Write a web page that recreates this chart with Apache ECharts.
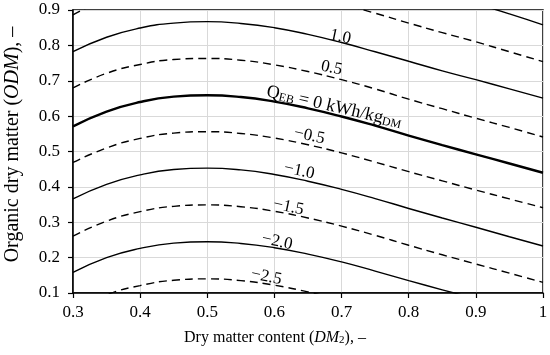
<!DOCTYPE html>
<html>
<head>
<meta charset="utf-8">
<script src="https://cdn.jsdelivr.net/npm/echarts@6/dist/echarts.min.js"></script>
<style>html,body{margin:0;padding:0;background:#fff}#c{width:550px;height:355px}</style>
</head>
<body>
<div id="c"></div>
<script>
// Dry matter content DM2 (x)
const dm = [0.30,0.35,0.40,0.45,0.50,0.55,0.60,0.65,0.70,0.75,0.80,0.85,0.90,0.95,1.00];
// Organic dry matter ODM (y) for each QEB contour, kWh/kgDM
const odmP20 = [null,null,null,null,null,null,null,null,null,null,null,0.945,0.918,0.889,0.858];
const odmP15 = [0.886,0.931,0.958,0.973,0.977,0.972,0.959,0.940,0.917,0.891,0.863,0.836,0.810,0.782,0.754];
const odmP10 = [0.782,0.823,0.849,0.863,0.867,0.862,0.850,0.831,0.808,0.782,0.755,0.728,0.703,0.677,0.651];
const odmP05 = [0.680,0.721,0.746,0.760,0.763,0.758,0.745,0.726,0.703,0.677,0.648,0.621,0.594,0.568,0.541];
const odm00  = [0.571,0.613,0.640,0.655,0.659,0.654,0.641,0.622,0.599,0.573,0.545,0.518,0.492,0.466,0.440];
const odmM05 = [0.469,0.510,0.537,0.552,0.556,0.551,0.538,0.519,0.496,0.470,0.443,0.417,0.391,0.366,0.341];
const odmM10 = [0.366,0.407,0.434,0.449,0.453,0.448,0.435,0.416,0.393,0.367,0.339,0.312,0.286,0.259,0.233];
const odmM15 = [0.261,0.303,0.330,0.345,0.349,0.344,0.331,0.312,0.289,0.263,0.235,0.208,0.182,0.156,0.130];
const odmM20 = [0.158,0.200,0.226,0.241,0.245,0.240,0.228,0.210,0.188,0.162,0.135,0.109,0.084,null,null];
const odmM25 = [0.052,0.095,0.121,0.136,0.140,0.135,0.122,0.103,0.080,null,null,null,null,null,null];

// contour labels
const labelText = ['1.0','0.5','Q{s|EB} = 0 kWh/kg{s|DM}','\u22120.5','\u22121.0','\u22121.5','\u22122.0','\u22122.5'];
const labelX = [0.698,0.685,0.689,0.652,0.637,0.621,0.604,0.588];
const labelY = [0.824,0.736,0.626,0.544,0.445,0.343,0.245,0.146];

const FONT = '"Liberation Serif","Times New Roman",serif';
const pairs = arr => dm.map((x,i)=>[x,arr[i]]).filter(p=>p[1]!=null);

function mk(arr, dashed, width){
  return {type:'line', data:pairs(arr), showSymbol:false, smooth:true, clip:true, silent:true,
    lineStyle:{color:'#000', width:width, type: dashed ? [8,5] : 'solid'}};
}

const chart = echarts.init(document.getElementById('c'), null, {renderer:'canvas'});
const option = {
  animation:false,
  backgroundColor:'#fff',
  grid:{left:73, right:7, top:10, bottom:62, containLabel:false, outerBoundsMode:'none',
    show:true, borderColor:'#000', borderWidth:1.5},
  xAxis:{type:'value', min:0.3, max:1, interval:0.1,
    name:'Dry matter content ({i|DM}{s|2}), \u2013', nameLocation:'middle', nameGap:37,
    nameTextStyle:{fontFamily:FONT, fontSize:16, color:'#000', padding:[0,66,0,0],
      rich:{i:{fontFamily:FONT, fontSize:16, fontStyle:'italic', color:'#000'}, s:{fontFamily:FONT, fontSize:11, color:'#000', verticalAlign:'bottom'}}},
    axisLine:{show:true, onZero:false, lineStyle:{color:'#000', width:1.5}},
    axisTick:{show:true, inside:false, length:5, lineStyle:{color:'#000', width:1.2}},
    axisLabel:{fontFamily:FONT, fontSize:17, color:'#000', margin:11, formatter:v=>String(+v.toFixed(1))},
    splitLine:{show:true, lineStyle:{color:'#d9d9d9', width:1}}},
  yAxis:{type:'value', min:0.1, max:0.9, interval:0.1,
    name:'Organic dry matter ({i|ODM}), \u2013', nameLocation:'middle', nameGap:50,
    nameTextStyle:{fontFamily:FONT, fontSize:20, color:'#000', padding:[0,0,0,14],
      rich:{i:{fontFamily:FONT, fontSize:20, fontStyle:'italic', color:'#000'}}},
    axisLine:{show:true, onZero:false, lineStyle:{color:'#000', width:1.5}},
    axisTick:{show:true, inside:false, length:5, lineStyle:{color:'#000', width:1.2}},
    axisLabel:{fontFamily:FONT, fontSize:17, color:'#000', margin:13, formatter:v=>(+v.toFixed(1)).toFixed(1)},
    splitLine:{show:true, lineStyle:{color:'#d9d9d9', width:1}}},
  series:[
    mk(odmP20,false,1.4), mk(odmP15,true,1.4), mk(odmP10,false,1.4), mk(odmP05,true,1.4),
    mk(odm00,false,2.4), mk(odmM05,true,1.4), mk(odmM10,false,1.4), mk(odmM15,true,1.4),
    mk(odmM20,false,1.4), mk(odmM25,true,1.4)
  ]
};
chart.setOption(option);

const graphics = labelText.map((t,i)=>{
  const p = chart.convertToPixel({gridIndex:0},[labelX[i],labelY[i]]);
  const isQ = t.indexOf('Q')===0;
  return {type:'text', x:p[0], y:p[1], rotation:(isQ?-13:-12)*Math.PI/180, z:100, silent:true,
    style:{text:t, fill:'#000', fontFamily:FONT, fontSize:isQ?18:17, align:'center', verticalAlign:'middle',
      rich:{s:{fontFamily:FONT, fontSize:12, fill:'#000', verticalAlign:'bottom'}}}};
});
chart.setOption({graphic:graphics});
</script>
</body>
</html>
